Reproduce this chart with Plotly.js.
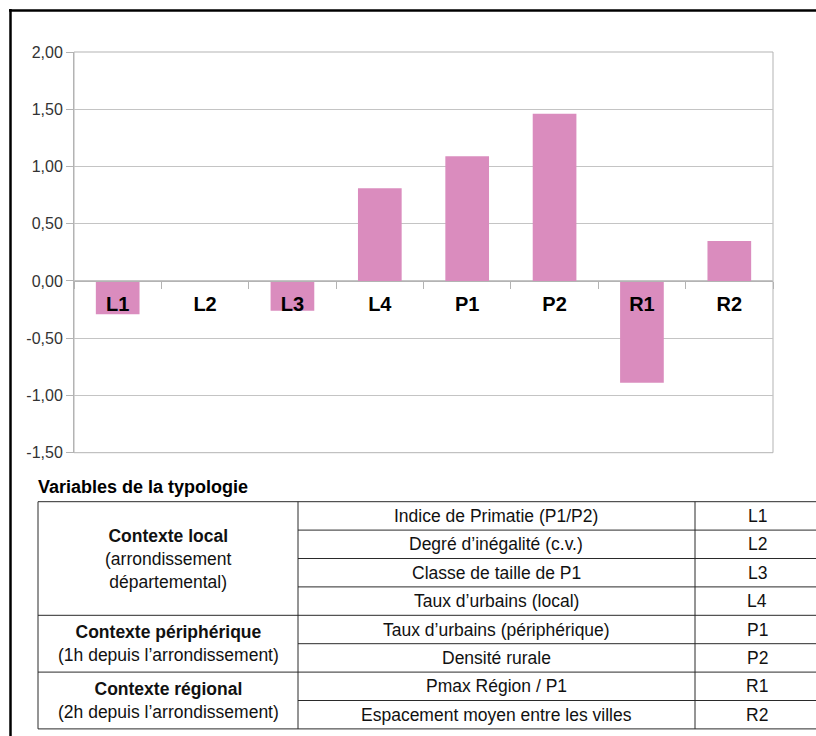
<!DOCTYPE html>
<html>
<head>
<meta charset="utf-8">
<script src="https://cdn.plot.ly/plotly-3.0.1.min.js"></script>
<style>html,body{margin:0;padding:0;background:#fff;}#chart{width:816px;height:736px;}</style>
</head>
<body>
<div id="chart"></div>
<script>
// ---- Data ----
const categories = ['L1', 'L2', 'L3', 'L4', 'P1', 'P2', 'R1', 'R2'];
const values = [-0.29, -0.01, -0.26, 0.81, 1.09, 1.46, -0.89, 0.35];
const yTickVals = [-1.5, -1.0, -0.5, 0, 0.5, 1.0, 1.5, 2.0];
const yTickLabels = ['-1,50', '-1,00', '-0,50', '0,00', '0,50', '1,00', '1,50', '2,00'];
const yRange = [-1.5, 2.0];

const tableTitle = 'Variables de la typologie';
const groupTitles = ['Contexte local', 'Contexte périphérique', 'Contexte régional'];
const groupSubtitles = ['(arrondissement<br>départemental)', '(1h depuis l’arrondissement)', '(2h depuis l’arrondissement)'];
const groupRowCounts = [4, 2, 2];
const variableNames = [
  'Indice de Primatie (P1/P2)',
  'Degré d’inégalité (c.v.)',
  'Classe de taille de P1',
  'Taux d’urbains (local)',
  'Taux d’urbains (périphérique)',
  'Densité rurale',
  'Pmax Région / P1',
  'Espacement moyen entre les villes'
];
const variableCodes = ['L1', 'L2', 'L3', 'L4', 'P1', 'P2', 'R1', 'R2'];

// ---- Layout helpers (pixel -> paper) ----
const W = 816, H = 736;
const px = x => x / W;
const py = y => 1 - y / H;
const FONT = 'Liberation Sans, Arial, Helvetica, sans-serif';

const plotLeft = 74, plotRight = 773, plotTop = 52, plotBottom = 452.7;
const yDomain = [py(plotBottom), py(plotTop)];
const zeroPos = yDomain[0] + (0 - yRange[0]) / (yRange[1] - yRange[0]) * (yDomain[1] - yDomain[0]);

const gridColor = '#c4c4c4';
const axisColor = '#b3b3b3';

const shapes = [];
const annotations = [];

// outer frame (top + left)
shapes.push({type: 'line', xref: 'paper', yref: 'paper', x0: px(9), x1: px(816), y0: py(10.5), y1: py(10.5), line: {color: '#000', width: 2.5}});
shapes.push({type: 'line', xref: 'paper', yref: 'paper', x0: px(10.5), x1: px(10.5), y0: py(9), y1: py(736), line: {color: '#000', width: 2.5}});
// plot box
shapes.push({type: 'rect', xref: 'x domain', yref: 'y domain', x0: 0, x1: 1, y0: 0, y1: 1, line: {color: axisColor, width: 1}, layer: 'below'});

// ---- Table ----
const tLeft = 38, tDiv1 = 298, tDiv2 = 695, tRight = 830;
const tTop = 501.7, rowH = 28.4;
const nRows = variableNames.length;
const tBottom = tTop + rowH * nRows;
const lineStyle = {color: '#2a2a2a', width: 1};
const TFS = 17.5;

annotations.push({xref: 'paper', yref: 'paper', x: px(tLeft - 2), y: py(487), xanchor: 'left', yanchor: 'middle', showarrow: false,
  text: '<b>' + tableTitle + '</b>', font: {family: FONT, size: 18, color: '#000'}});

// vertical lines
[tLeft, tDiv1, tDiv2].forEach(x => shapes.push({type: 'line', xref: 'paper', yref: 'paper', x0: px(x), x1: px(x), y0: py(tTop), y1: py(tBottom), line: lineStyle}));
// top & bottom
shapes.push({type: 'line', xref: 'paper', yref: 'paper', x0: px(tLeft), x1: px(tRight), y0: py(tTop), y1: py(tTop), line: lineStyle});
shapes.push({type: 'line', xref: 'paper', yref: 'paper', x0: px(tLeft), x1: px(tRight), y0: py(tBottom), y1: py(tBottom), line: lineStyle});
// row lines
const groupEnds = [];
let acc = 0;
groupRowCounts.forEach(c => { acc += c; groupEnds.push(acc); });
for (let i = 1; i < nRows; i++) {
  const y = tTop + rowH * i;
  const full = groupEnds.includes(i);
  shapes.push({type: 'line', xref: 'paper', yref: 'paper', x0: px(full ? tLeft : tDiv1), x1: px(tRight), y0: py(y), y1: py(y), line: lineStyle});
}
// row texts
for (let i = 0; i < nRows; i++) {
  const yc = tTop + rowH * (i + 0.5);
  annotations.push({xref: 'paper', yref: 'paper', x: px((tDiv1 + tDiv2) / 2), y: py(yc), xanchor: 'center', yanchor: 'middle', showarrow: false,
    text: variableNames[i], font: {family: FONT, size: TFS, color: '#111'}});
  annotations.push({xref: 'paper', yref: 'paper', x: px(757), y: py(yc), xanchor: 'center', yanchor: 'middle', showarrow: false,
    text: variableCodes[i], font: {family: FONT, size: TFS, color: '#111'}});
}
// group texts
let start = 0;
groupRowCounts.forEach((c, g) => {
  const yc = tTop + rowH * (start + c / 2);
  annotations.push({xref: 'paper', yref: 'paper', x: px((tLeft + tDiv1) / 2), y: py(yc), xanchor: 'center', yanchor: 'middle', showarrow: false,
    align: 'center',
    text: '<b>' + groupTitles[g] + '</b><br>' + groupSubtitles[g], font: {family: FONT, size: TFS, color: '#111'}});
  start += c;
});

// ---- Chart ----
const trace = {
  type: 'bar',
  x: categories,
  y: values,
  marker: {color: '#da8cbe', line: {width: 0}},
  hoverinfo: 'x+y'
};

const layout = {
  width: W, height: H,
  margin: {l: 0, r: 0, t: 0, b: 0},
  paper_bgcolor: '#fff', plot_bgcolor: '#fff',
  showlegend: false,
  bargap: 0.5,
  font: {family: FONT},
  xaxis: {
    domain: [px(plotLeft), px(plotRight)],
    type: 'category',
    anchor: 'free',
    position: zeroPos,
    showline: true, linecolor: axisColor, linewidth: 1,
    showgrid: false, zeroline: false,
    ticks: 'outside', tickson: 'boundaries', ticklen: 7, tickcolor: axisColor, tickwidth: 1,
    tickfont: {family: FONT, size: 20, color: '#000', weight: 'bold'},
    ticklabelstandoff: 5,
    fixedrange: true
  },
  yaxis: {
    domain: yDomain,
    range: yRange,
    tickvals: yTickVals,
    ticktext: yTickLabels,
    showgrid: true, gridcolor: gridColor, gridwidth: 1,
    zeroline: false,
    showline: true, linecolor: axisColor, linewidth: 1,
    ticks: 'outside', ticklen: 7, tickcolor: axisColor, tickwidth: 1,
    tickfont: {family: FONT, size: 16, color: '#333'},
    fixedrange: true
  },
  shapes: shapes,
  annotations: annotations
};

Plotly.newPlot('chart', [trace], layout, {displayModeBar: false, staticPlot: true});
</script>
</body>
</html>
